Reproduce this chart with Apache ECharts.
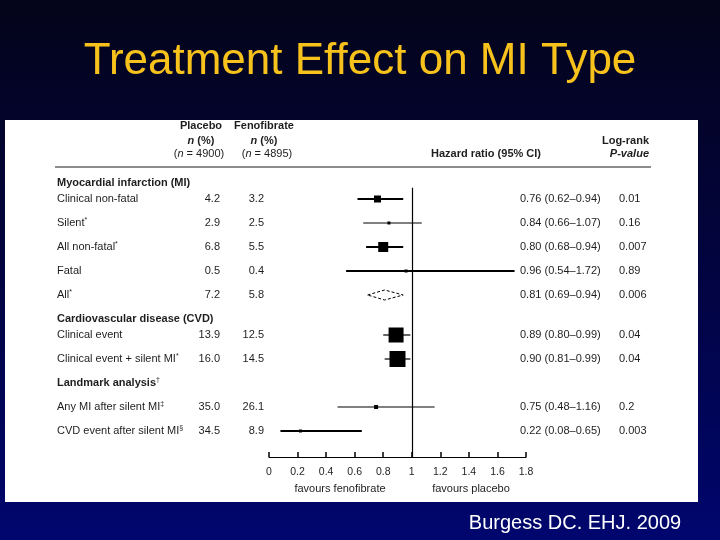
<!DOCTYPE html>
<html>
<head>
<meta charset="utf-8">
<script src="https://cdn.jsdelivr.net/npm/echarts@6/dist/echarts.min.js"></script>
<style>
html, body { margin: 0; padding: 0; background: #000; }
#main { width: 720px; height: 540px; }
</style>
</head>
<body>
<div id="main"></div>
<script>
// rows of the forest plot, top to bottom
var rowLabels = ['Myocardial infarction (MI)', 'Clinical non-fatal', 'Silent', 'All non-fatal', 'Fatal', 'All',
    'Cardiovascular disease (CVD)', 'Clinical event', 'Clinical event + silent MI',
    'Landmark analysis', 'Any MI after silent MI', 'CVD event after silent MI'];
var rowNotes = ['', '', '*', '*', '', '*', '', '', '*', '\u2020', '\u2021', '\u00a7'];
var rowIsHeader = [1, 0, 0, 0, 0, 0, 1, 0, 0, 1, 0, 0];
var rowIsPooled = [0, 0, 0, 0, 0, 1, 0, 0, 0, 0, 0, 0];
var placeboPct = [null, 4.2, 2.9, 6.8, 0.5, 7.2, null, 13.9, 16.0, null, 35.0, 34.5];
var fenoPct = [null, 3.2, 2.5, 5.5, 0.4, 5.8, null, 12.5, 14.5, null, 26.1, 8.9];
var hazard = [null, 0.76, 0.84, 0.80, 0.96, 0.81, null, 0.89, 0.90, null, 0.75, 0.22];
var ciLow = [null, 0.62, 0.66, 0.68, 0.54, 0.69, null, 0.80, 0.81, null, 0.48, 0.08];
var ciHigh = [null, 0.94, 1.07, 0.94, 1.72, 0.94, null, 0.99, 0.99, null, 1.16, 0.65];
var pValues = [null, '0.01', '0.16', '0.007', '0.89', '0.006', null, '0.04', '0.04', null, '0.2', '0.003'];

var groupNames = ['Placebo', 'Fenofibrate'];
var groupN = [4900, 4895];
var xTicks = ['0', '0.2', '0.4', '0.6', '0.8', '1', '1.2', '1.4', '1.6', '1.8'];

// look
var FONT = '"Liberation Sans", Arial, sans-serif';
var INK = '#1e1e1e';
var boxPx = [0, 7, 3, 10, 3, 0, 0, 15, 16, 0, 4, 3];
var ciWidth = [0, 2, 1, 2, 2, 0, 0, 1.2, 1.2, 0, 1, 2];
var rowGap = [0, 2, 3, 3, 3, 3, 3, 2, 3, 3, 3, 3];   // in 8px steps
var col = { label: 57, placebo: 220, feno: 264, hr: 520, p: 619 };

var slots = [];
rowGap.forEach(function (g, i) { slots.push(i ? slots[i - 1] + g : 0); });

var forestData = [], tableData = [];
rowLabels.forEach(function (l, i) {
    tableData.push([0, slots[i], i]);
    if (hazard[i] != null) forestData.push([hazard[i], slots[i], ciLow[i], ciHigh[i], i]);
});

function fmt1(v) { return v == null ? '' : v.toFixed(1); }

var richBase = {
    b: { fontFamily: FONT, fontSize: 11, fontWeight: 'bold', fill: INK, lineHeight: 13 },
    t: { fontFamily: FONT, fontSize: 11, fill: INK, lineHeight: 13 },
    s: { fontFamily: FONT, fontSize: 7, fill: INK, verticalAlign: 'top', lineHeight: 13 },
    i: { fontFamily: FONT, fontSize: 11, fontStyle: 'italic', fill: INK, lineHeight: 13 },
    bi: { fontFamily: FONT, fontSize: 11, fontStyle: 'italic', fontWeight: 'bold', fill: INK, lineHeight: 13 }
};

function txt(x, y, s, align) {
    return { type: 'text', x: x, y: y, z: 5,
        style: { text: s, rich: richBase, align: align || 'left', verticalAlign: 'middle', font: '11px ' + FONT, fill: INK } };
}

function renderTable(params, api) {
    var i = api.value(2);
    var y = api.coord([0, api.value(1)])[1];
    var kids = [];
    var main = rowIsHeader[i] ? 'b' : 't';
    var note = rowNotes[i] ? '{s|' + rowNotes[i] + '}' : '';
    kids.push(txt(col.label, y, '{' + main + '|' + rowLabels[i] + '}' + note));
    if (!rowIsHeader[i]) {
        kids.push(txt(col.placebo, y, '{t|' + fmt1(placeboPct[i]) + '}', 'right'));
        kids.push(txt(col.feno, y, '{t|' + fmt1(fenoPct[i]) + '}', 'right'));
        kids.push(txt(col.hr, y, '{t|' + hazard[i].toFixed(2) + ' (' + ciLow[i].toFixed(2) + '\u2013' + ciHigh[i].toFixed(2) + ')}'));
        kids.push(txt(col.p, y, '{t|' + pValues[i] + '}'));
    }
    return { type: 'group', children: kids };
}

function renderForest(params, api) {
    var i = api.value(4);
    var c = api.coord([api.value(0), api.value(1)]);
    var lo = api.coord([api.value(2), api.value(1)]);
    var hi = api.coord([api.value(3), api.value(1)]);
    if (rowIsPooled[i]) {
        return { type: 'polygon', z2: 3,
            shape: { points: [[lo[0], c[1]], [c[0], c[1] - 5], [hi[0], c[1]], [c[0], c[1] + 5]] },
            style: { fill: '#fff', stroke: '#000', lineWidth: 1, lineDash: [3, 2] } };
    }
    var b = boxPx[i];
    return { type: 'group', children: [
        { type: 'line', shape: { x1: lo[0], y1: c[1], x2: hi[0], y2: c[1] },
            style: { stroke: '#000', lineWidth: ciWidth[i] } },
        { type: 'rect', shape: { x: c[0] - b / 2, y: c[1] - b / 2, width: b, height: b },
            style: { fill: '#000' } }
    ] };
}

var chart = echarts.init(document.getElementById('main'));
chart.setOption({
    backgroundColor: new echarts.graphic.LinearGradient(0, 0, 0, 1, [
        { offset: 0, color: '#04041a' },
        { offset: 0.55, color: '#020444' },
        { offset: 1, color: '#00066e' }
    ]),
    animation: false,
    title: {
        text: 'Treatment Effect on MI Type',
        left: 'center', top: 35,
        textStyle: { color: '#f8c21c', fontSize: 44, fontWeight: 'normal', fontFamily: FONT }
    },
    grid: { left: 269, right: 194, top: 183, bottom: 83 },
    xAxis: {
        type: 'value', min: 0, max: 1.8, interval: 0.2, position: 'bottom',
        axisLine: { onZero: false, lineStyle: { color: '#000', width: 1.2 } },
        axisTick: { inside: true, length: 5, lineStyle: { color: '#000', width: 1.5 } },
        axisLabel: { color: INK, fontSize: 10.5, fontFamily: FONT, margin: 10,
            formatter: function (v) { return xTicks[Math.round(v / 0.2)]; } },
        splitLine: { show: false }
    },
    yAxis: { type: 'value', inverse: true, min: 0, max: 34.25, show: false },
    graphic: [
        { type: 'rect', z: -10, shape: { x: 5, y: 120, width: 693, height: 382 }, style: { fill: '#fff' } },
        { type: 'line', z: 1, shape: { x1: 55, y1: 167, x2: 651, y2: 167 }, style: { stroke: '#8c8c8c', lineWidth: 2 } },
        txt(201, 126, '{b|' + groupNames[0] + '}', 'center'),
        txt(264, 126, '{b|' + groupNames[1] + '}', 'center'),
        txt(201, 141, '{bi|n}{b| (%)}', 'center'),
        txt(264, 141, '{bi|n}{b| (%)}', 'center'),
        txt(199, 154, '{t|(}{i|n}{t| = ' + groupN[0] + ')}', 'center'),
        txt(267, 154, '{t|(}{i|n}{t| = ' + groupN[1] + ')}', 'center'),
        txt(486, 154, '{b|Hazard ratio (95% CI)}', 'center'),
        txt(649, 141, '{b|Log-rank}', 'right'),
        txt(649, 154, '{bi|P-value}', 'right'),
        txt(340, 489, '{t|favours fenofibrate}', 'center'),
        txt(471, 489, '{t|favours placebo}', 'center'),
        { type: 'text', z: 5, x: 575, y: 523,
            style: { text: 'Burgess DC. EHJ. 2009', fill: '#fff', font: '20px ' + FONT, align: 'center', verticalAlign: 'middle' } }
    ],
    series: [
        {
            type: 'custom', name: 'table', clip: false, silent: true,
            renderItem: renderTable, data: tableData
        },
        {
            type: 'custom', name: 'hazard ratio', clip: false, silent: true,
            renderItem: renderForest, data: forestData,
            markLine: {
                silent: true, symbol: 'none', animation: false,
                label: { show: false },
                lineStyle: { color: '#000', width: 1.2, type: 'solid' },
                data: [[{ coord: [1, 0.6] }, { coord: [1, 34.25] }]]
            }
        }
    ]
});
</script>
</body>
</html>
